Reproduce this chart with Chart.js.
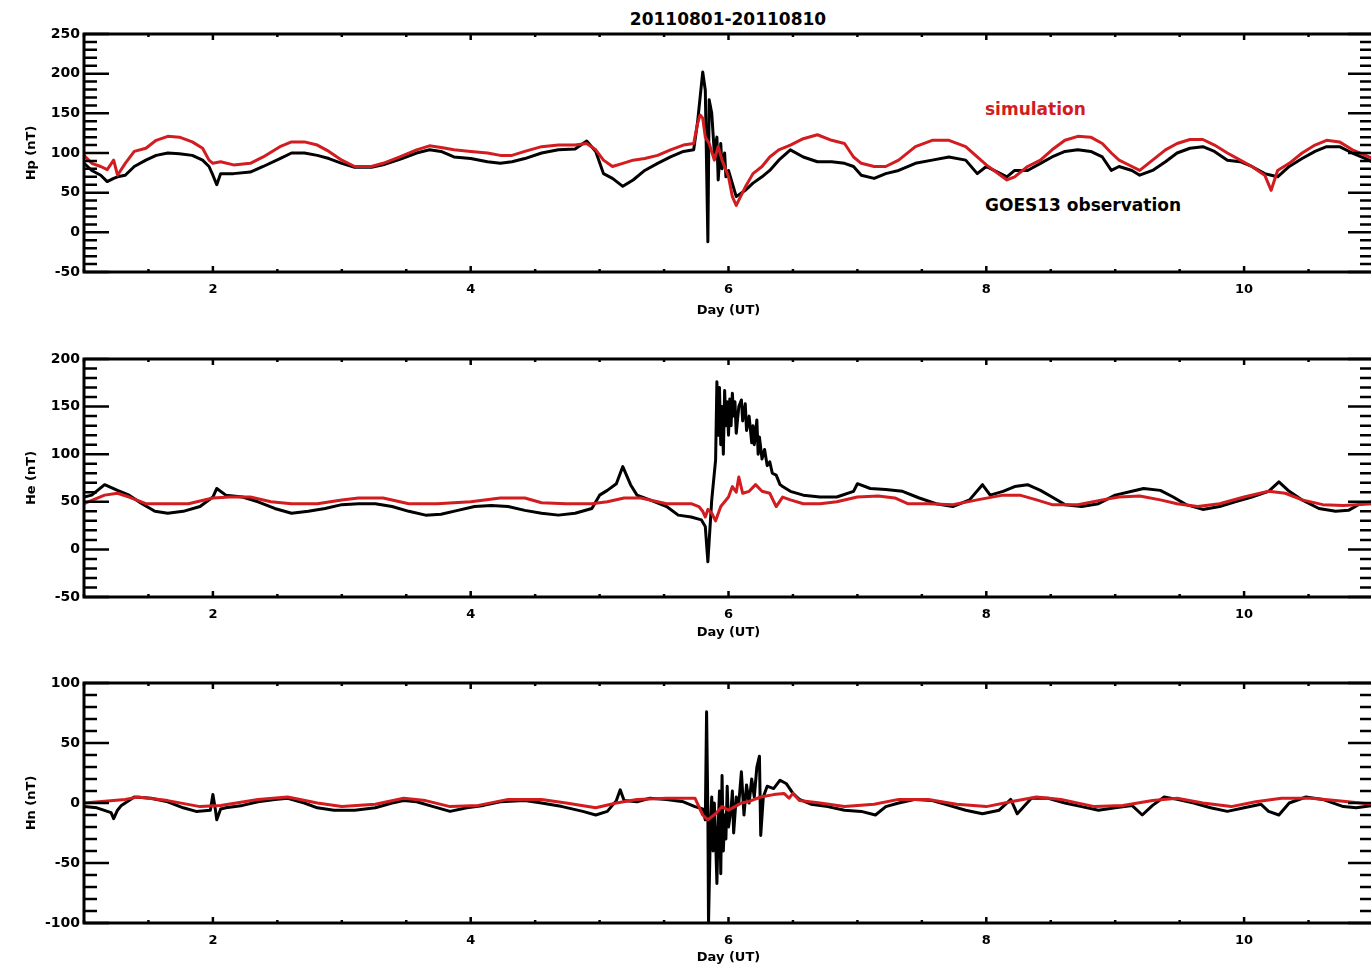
<!DOCTYPE html>
<html lang="en"><head><meta charset="UTF-8">
<title>20110801-20110810</title>
<script src="https://cdn.jsdelivr.net/npm/chart.js@4.4.1/dist/chart.umd.min.js"></script>
<style>
*{box-sizing:border-box;margin:0;padding:0;}
body{background:#fff;width:1371px;height:969px;overflow:hidden;position:relative;font-family:'DejaVu Sans',sans-serif;}
canvas{position:absolute;left:0;}
.txt{position:absolute;font-weight:700;white-space:nowrap;line-height:1;font-size:17px;}
</style></head>
<body>
<div class="txt" style="left:528px;width:400px;text-align:center;top:11px;">20110801-20110810</div>
<div class="txt" style="left:985px;top:101px;color:#d21c1f;">simulation</div>
<div class="txt" style="left:985px;top:197px;color:#000;">GOES13 observation</div>
<canvas id="hp" width="1380" height="322" style="top:0"></canvas>
<canvas id="he" width="1380" height="322" style="top:322px"></canvas>
<canvas id="hn" width="1380" height="325" style="top:644px"></canvas>
<script>
// ── axis ticks ──────────────────────────────────────────────────────
const xTicks  = [2, 4, 6, 8, 10];
const hpTicks = [-50, 0, 50, 100, 150, 200, 250];
const heTicks = [-50, 0, 50, 100, 150, 200];
const hnTicks = [-100, -50, 0, 50, 100];

// ── Hp (nT) ─────────────────────────────────────────────────────────
const hpObsDay = [1.00,1.06,1.13,1.18,1.23,1.26,1.32,1.39,1.48,1.56,1.65,1.74,1.84,1.92,1.97,2.00,2.03,2.06,2.16,2.29,2.39,2.52,2.61,2.71,2.81,2.90,3.00,3.10,3.23,3.32,3.45,3.58,3.68,3.77,3.87,4.00,4.13,4.23,4.32,4.42,4.55,4.68,4.81,4.90,4.97,5.03,5.10,5.18,5.26,5.35,5.45,5.55,5.65,5.73,5.76,5.80,5.82,5.84,5.85,5.87,5.89,5.91,5.92,5.94,5.95,5.97,5.98,6.00,6.06,6.13,6.19,6.26,6.32,6.39,6.48,6.58,6.69,6.80,6.90,6.97,7.03,7.13,7.22,7.32,7.45,7.58,7.71,7.84,7.93,8.00,8.06,8.16,8.22,8.32,8.42,8.51,8.61,8.71,8.81,8.90,8.97,9.03,9.13,9.19,9.29,9.39,9.48,9.58,9.68,9.77,9.87,9.97,10.06,10.16,10.21,10.26,10.35,10.45,10.55,10.64,10.74,10.84,10.97,11.00];
const hpObs    = [87,78,72,64,68,70,72,83,91,97,100,99,97,91,83,72,60,74,74,76,83,93,100,100,97,93,87,82,82,85,92,100,104,102,95,93,89,87,89,93,100,104,105,115,102,74,68,58,66,78,87,95,102,104,139,202,179,-12,167,150,100,120,66,112,80,100,70,78,45,53,62,70,78,91,104,95,89,89,87,83,72,68,74,78,87,91,95,91,74,83,78,70,78,78,87,95,102,104,102,95,78,83,78,72,78,89,100,106,108,102,91,89,83,74,72,70,83,93,102,108,108,100,91,88];
const hpSimDay = [1.00,1.06,1.13,1.18,1.23,1.26,1.32,1.39,1.48,1.56,1.65,1.74,1.84,1.92,1.97,2.00,2.06,2.16,2.29,2.39,2.52,2.61,2.71,2.81,2.90,3.00,3.10,3.23,3.32,3.45,3.58,3.68,3.77,3.87,4.00,4.13,4.23,4.32,4.42,4.55,4.68,4.81,4.90,4.97,5.03,5.10,5.18,5.26,5.35,5.45,5.55,5.65,5.73,5.76,5.78,5.80,5.82,5.85,5.89,5.92,5.95,6.00,6.03,6.06,6.13,6.19,6.26,6.32,6.39,6.48,6.58,6.69,6.80,6.90,6.97,7.03,7.13,7.22,7.32,7.45,7.58,7.71,7.84,7.93,8.00,8.06,8.16,8.22,8.32,8.42,8.51,8.61,8.71,8.81,8.90,8.97,9.03,9.13,9.19,9.29,9.39,9.48,9.58,9.68,9.77,9.87,9.97,10.06,10.16,10.21,10.26,10.35,10.45,10.55,10.64,10.74,10.84,10.97,11.00];
const hpSim    = [97,87,83,79,91,72,87,102,106,116,121,120,114,106,91,87,89,85,87,95,108,114,114,110,102,91,83,83,87,95,104,109,107,104,102,100,97,97,102,108,110,110,112,104,91,83,87,91,93,97,104,110,112,137,148,144,120,112,91,108,91,70,45,34,57,74,83,95,104,110,118,123,116,112,95,87,83,83,91,108,116,116,108,95,85,78,66,70,83,91,104,116,121,120,112,100,91,83,78,91,104,112,117,117,110,100,91,83,72,53,78,87,100,110,116,114,104,95,93];

// ── He (nT) ─────────────────────────────────────────────────────────
const heObsDay = [1.00,1.06,1.16,1.26,1.35,1.45,1.55,1.65,1.77,1.90,2.00,2.03,2.10,2.23,2.35,2.48,2.61,2.74,2.87,3.00,3.13,3.26,3.39,3.52,3.65,3.77,3.90,4.03,4.16,4.29,4.42,4.55,4.68,4.81,4.94,5.00,5.06,5.13,5.18,5.24,5.29,5.39,5.52,5.61,5.71,5.79,5.82,5.84,5.87,5.90,5.91,5.92,5.93,5.94,5.95,5.96,5.97,5.98,5.99,6.00,6.01,6.02,6.03,6.04,6.05,6.06,6.08,6.10,6.11,6.13,6.14,6.16,6.18,6.19,6.20,6.22,6.23,6.24,6.26,6.28,6.30,6.32,6.34,6.37,6.40,6.42,6.48,6.58,6.71,6.84,6.97,7.00,7.10,7.22,7.35,7.48,7.61,7.74,7.87,7.97,8.03,8.13,8.22,8.32,8.42,8.51,8.61,8.74,8.87,9.00,9.13,9.22,9.35,9.45,9.55,9.68,9.81,9.93,10.06,10.19,10.27,10.35,10.45,10.58,10.71,10.81,10.90,11.00];
const heObs    = [55,57,68,62,57,48,40,38,40,45,55,64,57,55,50,43,38,40,43,47,48,48,45,40,36,37,41,45,46,45,41,38,36,38,43,57,62,69,87,68,57,52,45,36,34,31,24,-13,52,94,176,120,170,110,150,100,167,130,155,120,158,130,164,140,155,122,150,157,135,153,125,140,112,130,110,136,100,118,95,105,88,92,80,78,68,66,61,57,55,55,61,69,64,63,61,54,48,45,52,68,57,61,66,68,62,55,47,45,48,57,61,64,62,55,47,42,45,50,55,61,71,61,52,43,40,41,48,50];
const heSimDay = [1.00,1.16,1.26,1.35,1.48,1.65,1.81,2.00,2.13,2.29,2.45,2.61,2.81,3.00,3.13,3.32,3.52,3.74,4.00,4.23,4.42,4.55,4.74,4.94,5.06,5.19,5.32,5.52,5.71,5.77,5.80,5.82,5.84,5.87,5.90,5.94,6.00,6.03,6.06,6.08,6.11,6.16,6.21,6.26,6.32,6.37,6.42,6.48,6.58,6.71,6.84,7.00,7.16,7.29,7.39,7.55,7.74,7.93,8.13,8.26,8.39,8.51,8.71,8.90,9.03,9.19,9.35,9.48,9.64,9.81,10.00,10.19,10.32,10.45,10.61,10.77,11.00];
const heSim    = [48,57,59,55,48,48,48,54,55,55,50,48,48,52,54,54,48,48,50,54,54,49,48,48,50,54,54,48,48,45,40,34,42,38,30,45,55,66,60,76,59,61,68,61,59,45,55,52,48,48,50,55,56,54,48,48,47,52,57,57,52,47,47,52,55,56,52,48,45,48,55,61,59,52,47,46,48];

// ── Hn (nT) ─────────────────────────────────────────────────────────
const hnObsDay = [1.00,1.10,1.21,1.23,1.26,1.29,1.39,1.52,1.65,1.77,1.87,1.98,2.00,2.02,2.03,2.06,2.10,2.23,2.35,2.48,2.58,2.71,2.81,2.94,3.10,3.26,3.39,3.48,3.58,3.71,3.84,3.97,4.10,4.23,4.42,4.55,4.71,4.87,4.97,5.06,5.13,5.16,5.19,5.29,5.39,5.52,5.65,5.74,5.80,5.82,5.83,5.84,5.845,5.86,5.87,5.88,5.89,5.90,5.91,5.92,5.93,5.94,5.95,5.96,5.97,5.98,5.99,6.00,6.02,6.03,6.04,6.06,6.08,6.10,6.12,6.14,6.16,6.18,6.20,6.22,6.24,6.25,6.27,6.30,6.35,6.40,6.45,6.50,6.55,6.64,6.77,6.90,7.03,7.14,7.22,7.32,7.45,7.58,7.71,7.84,7.97,8.10,8.19,8.24,8.35,8.48,8.61,8.74,8.87,9.00,9.13,9.21,9.29,9.38,9.48,9.61,9.74,9.87,10.00,10.13,10.19,10.27,10.35,10.48,10.61,10.77,10.87,11.00];
const hnObs    = [-3,-4,-8,-13,-6,-2,5,4,1,-4,-7,-6,7,-6,-14,-5,-4,-2,1,3,4,0,-4,-6,-6,-4,0,2,1,-3,-7,-4,-2,1,2,0,-3,-7,-10,-7,2,11,2,1,4,3,1,-3,-5,-14,76,-10,-100,-20,5,-40,0,-30,-67,-20,10,-59,23,-40,-10,-30,14,-20,-5,10,-25,5,0,26,-10,15,0,20,5,30,39,-27,5,14,12,19,16,8,3,-1,-3,-6,-7,-10,-3,0,3,2,-2,-6,-9,-6,3,-9,4,4,0,-3,-6,-4,-2,-10,-2,5,3,0,-4,-7,-4,-1,-7,-10,0,5,3,-3,-4,-2];
const hnSimDay = [1.00,1.32,1.42,1.65,1.90,2.06,2.35,2.58,2.81,3.00,3.26,3.48,3.65,3.84,4.06,4.29,4.55,4.74,4.97,5.13,5.29,5.52,5.74,5.80,5.84,5.90,5.95,6.00,6.05,6.10,6.15,6.25,6.35,6.43,6.47,6.50,6.55,6.71,6.90,7.13,7.32,7.55,7.77,8.00,8.19,8.39,8.58,8.84,9.06,9.29,9.48,9.68,9.90,10.09,10.29,10.52,10.71,11.00];
const hnSim    = [0,3,5,2,-3,-2,3,5,0,-3,-1,4,2,-3,-2,3,3,0,-4,0,3,4,4,-10,-14,-9,-3,-6,-3,0,1,5,7,8,4,8,2,0,-3,-1,3,3,-1,-3,1,5,3,-3,-2,2,4,0,-3,1,4,4,2,-1];

// ── style ───────────────────────────────────────────────────────────
const RED = '#d21c1f';
const xMinorStep = 0.5, yMinorStep = 10;
Chart.defaults.font.family = "'DejaVu Sans', sans-serif";

const pts = (days, vals) => days.map((d, i) => ({x: d, y: vals[i]}));

// IDL-style box: frame all round, ticks pointing inward on every side
const idlFrame = {
  id: 'idlFrame',
  afterDatasetsDraw(chart) {
    const {ctx, chartArea: a, scales: {x, y}} = chart;
    ctx.save();
    ctx.strokeStyle = '#000';
    ctx.lineWidth = 2.5;
    ctx.beginPath();
    for (let d = x.min; d <= x.max + 1e-9; d += xMinorStep) {
      const px = x.getPixelForValue(d), len = xTicks.includes(d) ? 6 : 3;
      ctx.moveTo(px, a.bottom); ctx.lineTo(px, a.bottom - len);
      ctx.moveTo(px, a.top);    ctx.lineTo(px, a.top + len);
    }
    for (let v = y.min; v <= y.max + 1e-9; v += yMinorStep) {
      const py = y.getPixelForValue(v), len = v % 50 === 0 ? 25 : 13;
      ctx.moveTo(a.left, py);  ctx.lineTo(a.left + len, py);
      ctx.moveTo(a.right, py); ctx.lineTo(a.right - len, py);
    }
    ctx.stroke();
    ctx.lineWidth = 3;
    ctx.strokeRect(a.left, a.top, a.right - a.left, a.bottom - a.top);
    ctx.restore();
  }
};

function panel(id, p) {
  const line = (data, color) => ({data, borderColor: color, borderWidth: 3, pointRadius: 0, borderJoinStyle: 'round'});
  return new Chart(document.getElementById(id), {
    type: 'line',
    data: {datasets: [line(pts(p.simDay, p.sim), RED), line(pts(p.obsDay, p.obs), '#000')]},
    options: {
      responsive: false, animation: false, events: [],
      layout: {padding: {top: p.top, right: 7, bottom: 0, left: 0}},
      plugins: {legend: {display: false}, tooltip: {enabled: false}},
      scales: {
        x: {
          type: 'linear', min: 1, max: 11,
          grid: {display: false, drawTicks: false}, border: {display: false},
          afterBuildTicks: s => { s.ticks = xTicks.map(v => ({value: v})); },
          afterFit: s => { s.height = p.h - p.bottom; },
          ticks: {color: '#000', font: {size: 13, weight: 'bold'}, padding: 10, maxRotation: 0, autoSkip: false},
          title: {display: true, text: 'Day (UT)', color: '#000', font: {size: 13, weight: 'bold'}, padding: {top: 0, bottom: 4}}
        },
        y: {
          min: p.ticks[0], max: p.ticks[p.ticks.length - 1],
          grid: {display: false, drawTicks: false}, border: {display: false},
          afterBuildTicks: s => { s.ticks = p.ticks.map(v => ({value: v})); },
          afterFit: s => { s.width = 84; },
          ticks: {color: '#000', font: {size: 14, weight: 'bold'}, padding: 4, autoSkip: false},
          title: {display: true, text: p.label, color: '#000', font: {size: 13, weight: 'bold'}, padding: {top: 24, bottom: 0}}
        }
      }
    },
    plugins: [idlFrame]
  });
}

panel('hp', {label: 'Hp (nT)', ticks: hpTicks, h: 322, top: 34, bottom: 272,
  obsDay: hpObsDay, obs: hpObs, simDay: hpSimDay, sim: hpSim});
panel('he', {label: 'He (nT)', ticks: heTicks, h: 322, top: 37, bottom: 275,
  obsDay: heObsDay, obs: heObs, simDay: heSimDay, sim: heSim});
panel('hn', {label: 'Hn (nT)', ticks: hnTicks, h: 325, top: 39, bottom: 279,
  obsDay: hnObsDay, obs: hnObs, simDay: hnSimDay, sim: hnSim});
</script>
</body></html>
